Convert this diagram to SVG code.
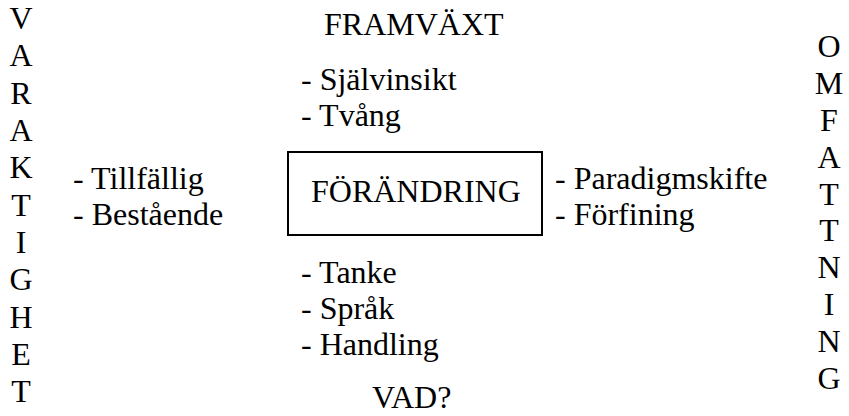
<svg xmlns="http://www.w3.org/2000/svg" width="849" height="416" viewBox="0 0 849 416">
  <style>
    text { font-family: "Liberation Serif", "Times New Roman", Times, serif; font-size: 32px; fill: #000; }
    .col { text-anchor: middle; }
    .box { fill: #fff; stroke: #000; stroke-width: 2; }
  </style>
  <rect width="849" height="416" fill="#fff"/>

  <!-- Axis: VARAKTIGHET (left, vertical) -->
  <g id="axis-varaktighet" class="col">
    <text x="21" y="29">V</text>
    <text x="21" y="66">A</text>
    <text x="21" y="104">R</text>
    <text x="21" y="141">A</text>
    <text x="21" y="178">K</text>
    <text x="21" y="216">T</text>
    <text x="21" y="253">I</text>
    <text x="21" y="290">G</text>
    <text x="21" y="328">H</text>
    <text x="21" y="365">E</text>
    <text x="21" y="402">T</text>
  </g>

  <!-- Axis: OMFATTNING (right, vertical) -->
  <g id="axis-omfattning" class="col">
    <text x="829" y="57">O</text>
    <text x="829" y="94">M</text>
    <text x="829" y="131">F</text>
    <text x="829" y="168">A</text>
    <text x="829" y="205">T</text>
    <text x="829" y="241">T</text>
    <text x="829" y="278">N</text>
    <text x="829" y="315">I</text>
    <text x="829" y="352">N</text>
    <text x="829" y="389">G</text>
  </g>

  <!-- Heading: FRAMVÄXT -->
  <g id="framvaxt">
    <text x="324" y="35">FRAMVÄXT</text>
    <text x="301" y="90">- Självinsikt</text>
    <text x="301" y="126">- Tvång</text>
  </g>

  <!-- Left list -->
  <g id="varaktighet-items">
    <text x="73" y="189">- Tillfällig</text>
    <text x="73" y="225">- Bestående</text>
  </g>

  <!-- Central node -->
  <g id="forandring">
    <rect class="box" x="288" y="152" width="254" height="83"/>
    <text x="311" y="202">FÖRÄNDRING</text>
  </g>

  <!-- Right list -->
  <g id="omfattning-items">
    <text x="555" y="189">- Paradigmskifte</text>
    <text x="555" y="225">- Förfining</text>
  </g>

  <!-- Bottom list and heading: VAD? -->
  <g id="vad">
    <text x="301" y="283">- Tanke</text>
    <text x="301" y="319">- Språk</text>
    <text x="301" y="355">- Handling</text>
    <text x="372" y="408">VAD?</text>
  </g>

  <g id="connectors"></g>
</svg>
